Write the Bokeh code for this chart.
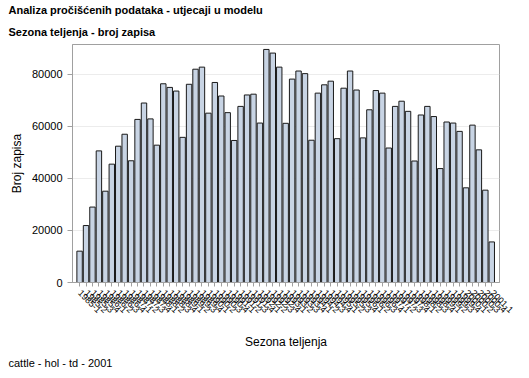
from bokeh.plotting import figure
from bokeh.models import Title, FixedTicker, Range1d, ColumnDataSource
from bokeh.embed import file_html
from bokeh.resources import INLINE
import math

# Data: calving season (quarters) and number of records
years = list(range(1985, 2002))
seasons = [f"{y}-{q}" for y in years for q in (1, 2, 3, 4)][:65]
records = [12050, 21900, 29000, 50600, 35100, 45500, 52400, 57000, 46800, 62700,
           69000, 62900, 52800, 76400, 75000, 73600, 55800, 76200, 82000, 82800,
           65100, 76900, 71700, 65300, 54600, 67700, 72100, 72400, 61300, 89600,
           88200, 82800, 61200, 78200, 81300, 80300, 54700, 72800, 76000, 77400,
           55300, 74700, 81300, 74000, 55600, 66400, 73800, 72800, 51700, 67700,
           69700, 65800, 46700, 64400, 67700, 63800, 43800, 61700, 61300, 58100,
           36400, 60500, 51000, 35500, 15600]
y_ticks = [0, 20000, 40000, 60000, 80000]

title1 = "Analiza pročišćenih podataka - utjecaji u modelu"
title2 = "Sezona teljenja - broj zapisa"
x_title = "Sezona teljenja"
y_title = "Broj zapisa"
footer = "cattle - hol - td - 2001"

pos = list(range(1, len(seasons) + 1))
src = ColumnDataSource(dict(x=pos, top=records))

FONT = "Liberation Sans"
W, H = 529, 378
FL, FB = 72, 282  # frame left / bottom in canvas pixels

p = figure(width=W, height=H, output_backend="svg", toolbar_location=None,
           x_range=Range1d(-0.1, 66.2), y_range=Range1d(0, 91500),
           min_border_left=FL, min_border_right=30, min_border_top=44,
           min_border_bottom=H - FB)
p.background_fill_color = "white"
p.border_fill_color = "white"
p.outline_line_color = "#a0a0a0"

p.vbar(x="x", top="top", width=0.84, source=src, fill_color="#c8d4e4",
       line_color="#1a1a1a", line_width=1)

p.xgrid.visible = False
p.ygrid.grid_line_color = "#ececec"
p.ygrid.ticker = FixedTicker(ticks=y_ticks)

p.yaxis.ticker = FixedTicker(ticks=y_ticks)
p.yaxis.axis_label = y_title
p.yaxis.axis_label_text_font = FONT
p.yaxis.axis_label_text_font_size = "12px"
p.yaxis.axis_label_text_font_style = "normal"
p.yaxis.axis_label_text_color = "black"
p.yaxis.major_label_text_font = FONT
p.yaxis.major_label_text_font_size = "11px"
p.yaxis.major_label_text_color = "black"
p.yaxis.axis_line_color = "#a0a0a0"
p.yaxis.major_tick_line_color = "#a0a0a0"
p.yaxis.major_tick_in = 0
p.yaxis.major_tick_out = 5
p.yaxis.minor_tick_line_color = None

p.xaxis.ticker = FixedTicker(ticks=pos)
p.xaxis.major_label_overrides = {i: s for i, s in zip(pos, seasons)}
p.xaxis.major_label_orientation = -math.pi / 4
p.xaxis.major_label_text_font = FONT
p.xaxis.major_label_text_font_size = "9px"
p.xaxis.major_label_text_color = "black"
p.xaxis.axis_line_color = "#a0a0a0"
p.xaxis.major_tick_line_color = "#a0a0a0"
p.xaxis.major_tick_in = 0
p.xaxis.major_tick_out = 4
p.xaxis.minor_tick_line_color = None
p.xaxis.axis_label = x_title
p.xaxis.axis_label_text_font = FONT
p.xaxis.axis_label_text_font_size = "12px"
p.xaxis.axis_label_text_font_style = "normal"
p.xaxis.axis_label_text_color = "black"
p.xaxis.axis_label_standoff = 16

# titles (above: the added Title sits nearer the frame than p.title)
p.title.text = title1
p.title.align = "left"
p.title.offset = 8 - FL
p.title.text_font = FONT
p.title.text_font_size = "11px"
p.title.text_font_style = "bold"
p.title.text_color = "black"
p.title.standoff = 1
p.add_layout(Title(text=title2, align="left", offset=8 - FL, text_font=FONT,
                   text_font_size="11px", text_font_style="bold",
                   text_color="black", standoff=14), "above")

p.add_layout(Title(text=footer, align="left", offset=8 - FL, text_font=FONT,
                   text_font_size="11px", text_font_style="normal",
                   text_color="black", standoff=6), "below")

open("out.html", "w").write(file_html(p, INLINE))
